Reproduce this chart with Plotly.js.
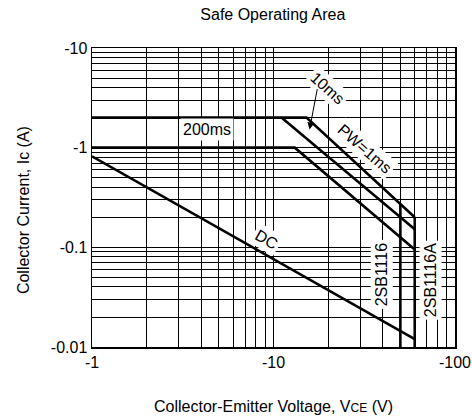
<!DOCTYPE html>
<html>
<head>
<meta charset="utf-8">
<script src="https://cdn.plot.ly/plotly-3.0.1.min.js"></script>
<style>html,body{margin:0;padding:0;background:#fff;}#chart{width:472px;height:419px;}</style>
</head>
<body>
<div id="chart"></div>
<script>
// Magnitudes (|Vce| in V, |Ic| in A); axis labels carry the minus sign
var pw1msV = [1, 15.2, 60];
var pw1msI = [2, 2, 0.2];
var pw10msV = [11.1, 60];
var pw10msI = [2, 0.152];
var pw200msV = [1, 13.1, 60];
var pw200msI = [1, 1, 0.095];
var dcV = [1, 60];
var dcI = [0.82, 0.012];
var lim1116V = [50, 50];
var lim1116I = [0.272, 0.01];
var lim1116AV = [60, 60];
var lim1116AI = [0.2, 0.01];

var xTickVals = [1, 10, 100];
var xTickText = ["-1", "-10", "-100"];
var yTickVals = [0.01, 0.1, 1, 10];
var yTickText = ["-0.01", "-0.1", "-1", "-10"];

var FONT = "Liberation Sans, Arial, sans-serif";
var lineStyle = {color: "#000", width: 2.6};

function tr(x, y) {
  return {x: x, y: y, type: "scatter", mode: "lines", line: lineStyle, hoverinfo: "skip", showlegend: false};
}

var data = [
  tr(pw1msV, pw1msI),
  tr(pw10msV, pw10msI),
  tr(pw200msV, pw200msI),
  tr(dcV, dcI),
  tr(lim1116V, lim1116I),
  tr(lim1116AV, lim1116AI)
];

function lg(v) { return Math.log10(v); }

function lab(text, v, i, ang) {
  return {text: text, x: lg(v), y: lg(i), xref: "x", yref: "y", showarrow: false,
    textangle: ang, bgcolor: "#fff", borderpad: 2,
    font: {family: FONT, size: 16, color: "#000"}};
}

var annotations = [
  lab("200ms", 4.3, 1.52, 0),
  lab("10ms", 19.95, 3.95, 42),
  lab("PW=1ms", 31.6, 0.977, 41),
  lab("DC", 9.17, 0.1205, 30),
  lab("2SB1116", 39.5, 0.0533, -90),
  lab("2SB1116A", 73.4, 0.0464, -90),
  {x: lg(15.8), y: lg(1.52), xref: "x", yref: "y", text: "", showarrow: true,
   ax: 8, ay: -42, arrowhead: 2, arrowsize: 1.4, arrowwidth: 1, arrowcolor: "#000", standoff: 0},
  {text: "Collector-Emitter Voltage, V<span style=\"font-size:12px\">CE</span> (V)",
   x: 0.5, y: -0.2, xref: "paper", yref: "paper", showarrow: false,
   xanchor: "center", yanchor: "middle", font: {family: FONT, size: 16, color: "#000"}},
  {text: "Collector Current, Ic (A)", x: -0.19, y: 0.458, xref: "paper", yref: "paper",
   showarrow: false, textangle: -90, xanchor: "center", yanchor: "middle",
   font: {family: FONT, size: 16, color: "#000"}}
];

var gridMinor = {dtick: "D1", showgrid: true, gridcolor: "#000", gridwidth: 1, ticks: ""};

var layout = {
  width: 472, height: 419,
  margin: {l: 92, r: 17, t: 48, b: 72},
  paper_bgcolor: "#fff", plot_bgcolor: "#fff",
  font: {family: FONT, size: 16, color: "#000"},
  title: {text: "Safe Operating Area", x: 0.578, xanchor: "center", y: 0.965, yanchor: "middle",
          font: {family: FONT, size: 16, color: "#000"}},
  xaxis: {type: "log", range: [0, 2], tickmode: "array", tickvals: xTickVals, ticktext: xTickText,
          showgrid: true, gridcolor: "#000", gridwidth: 1, minor: gridMinor,
          showline: true, linecolor: "#000", linewidth: 1.5, mirror: true, ticks: "",
          zeroline: false, tickfont: {family: FONT, size: 16, color: "#000"}},
  yaxis: {type: "log", range: [-2, 1], tickmode: "array", tickvals: yTickVals, ticktext: yTickText,
          showgrid: true, gridcolor: "#000", gridwidth: 1, minor: gridMinor,
          showline: true, linecolor: "#000", linewidth: 1.5, mirror: true, ticks: "",
          zeroline: false, tickfont: {family: FONT, size: 16, color: "#000"}},
  annotations: annotations,
  showlegend: false
};

Plotly.newPlot("chart", data, layout, {staticPlot: true, displayModeBar: false});
</script>
</body>
</html>
